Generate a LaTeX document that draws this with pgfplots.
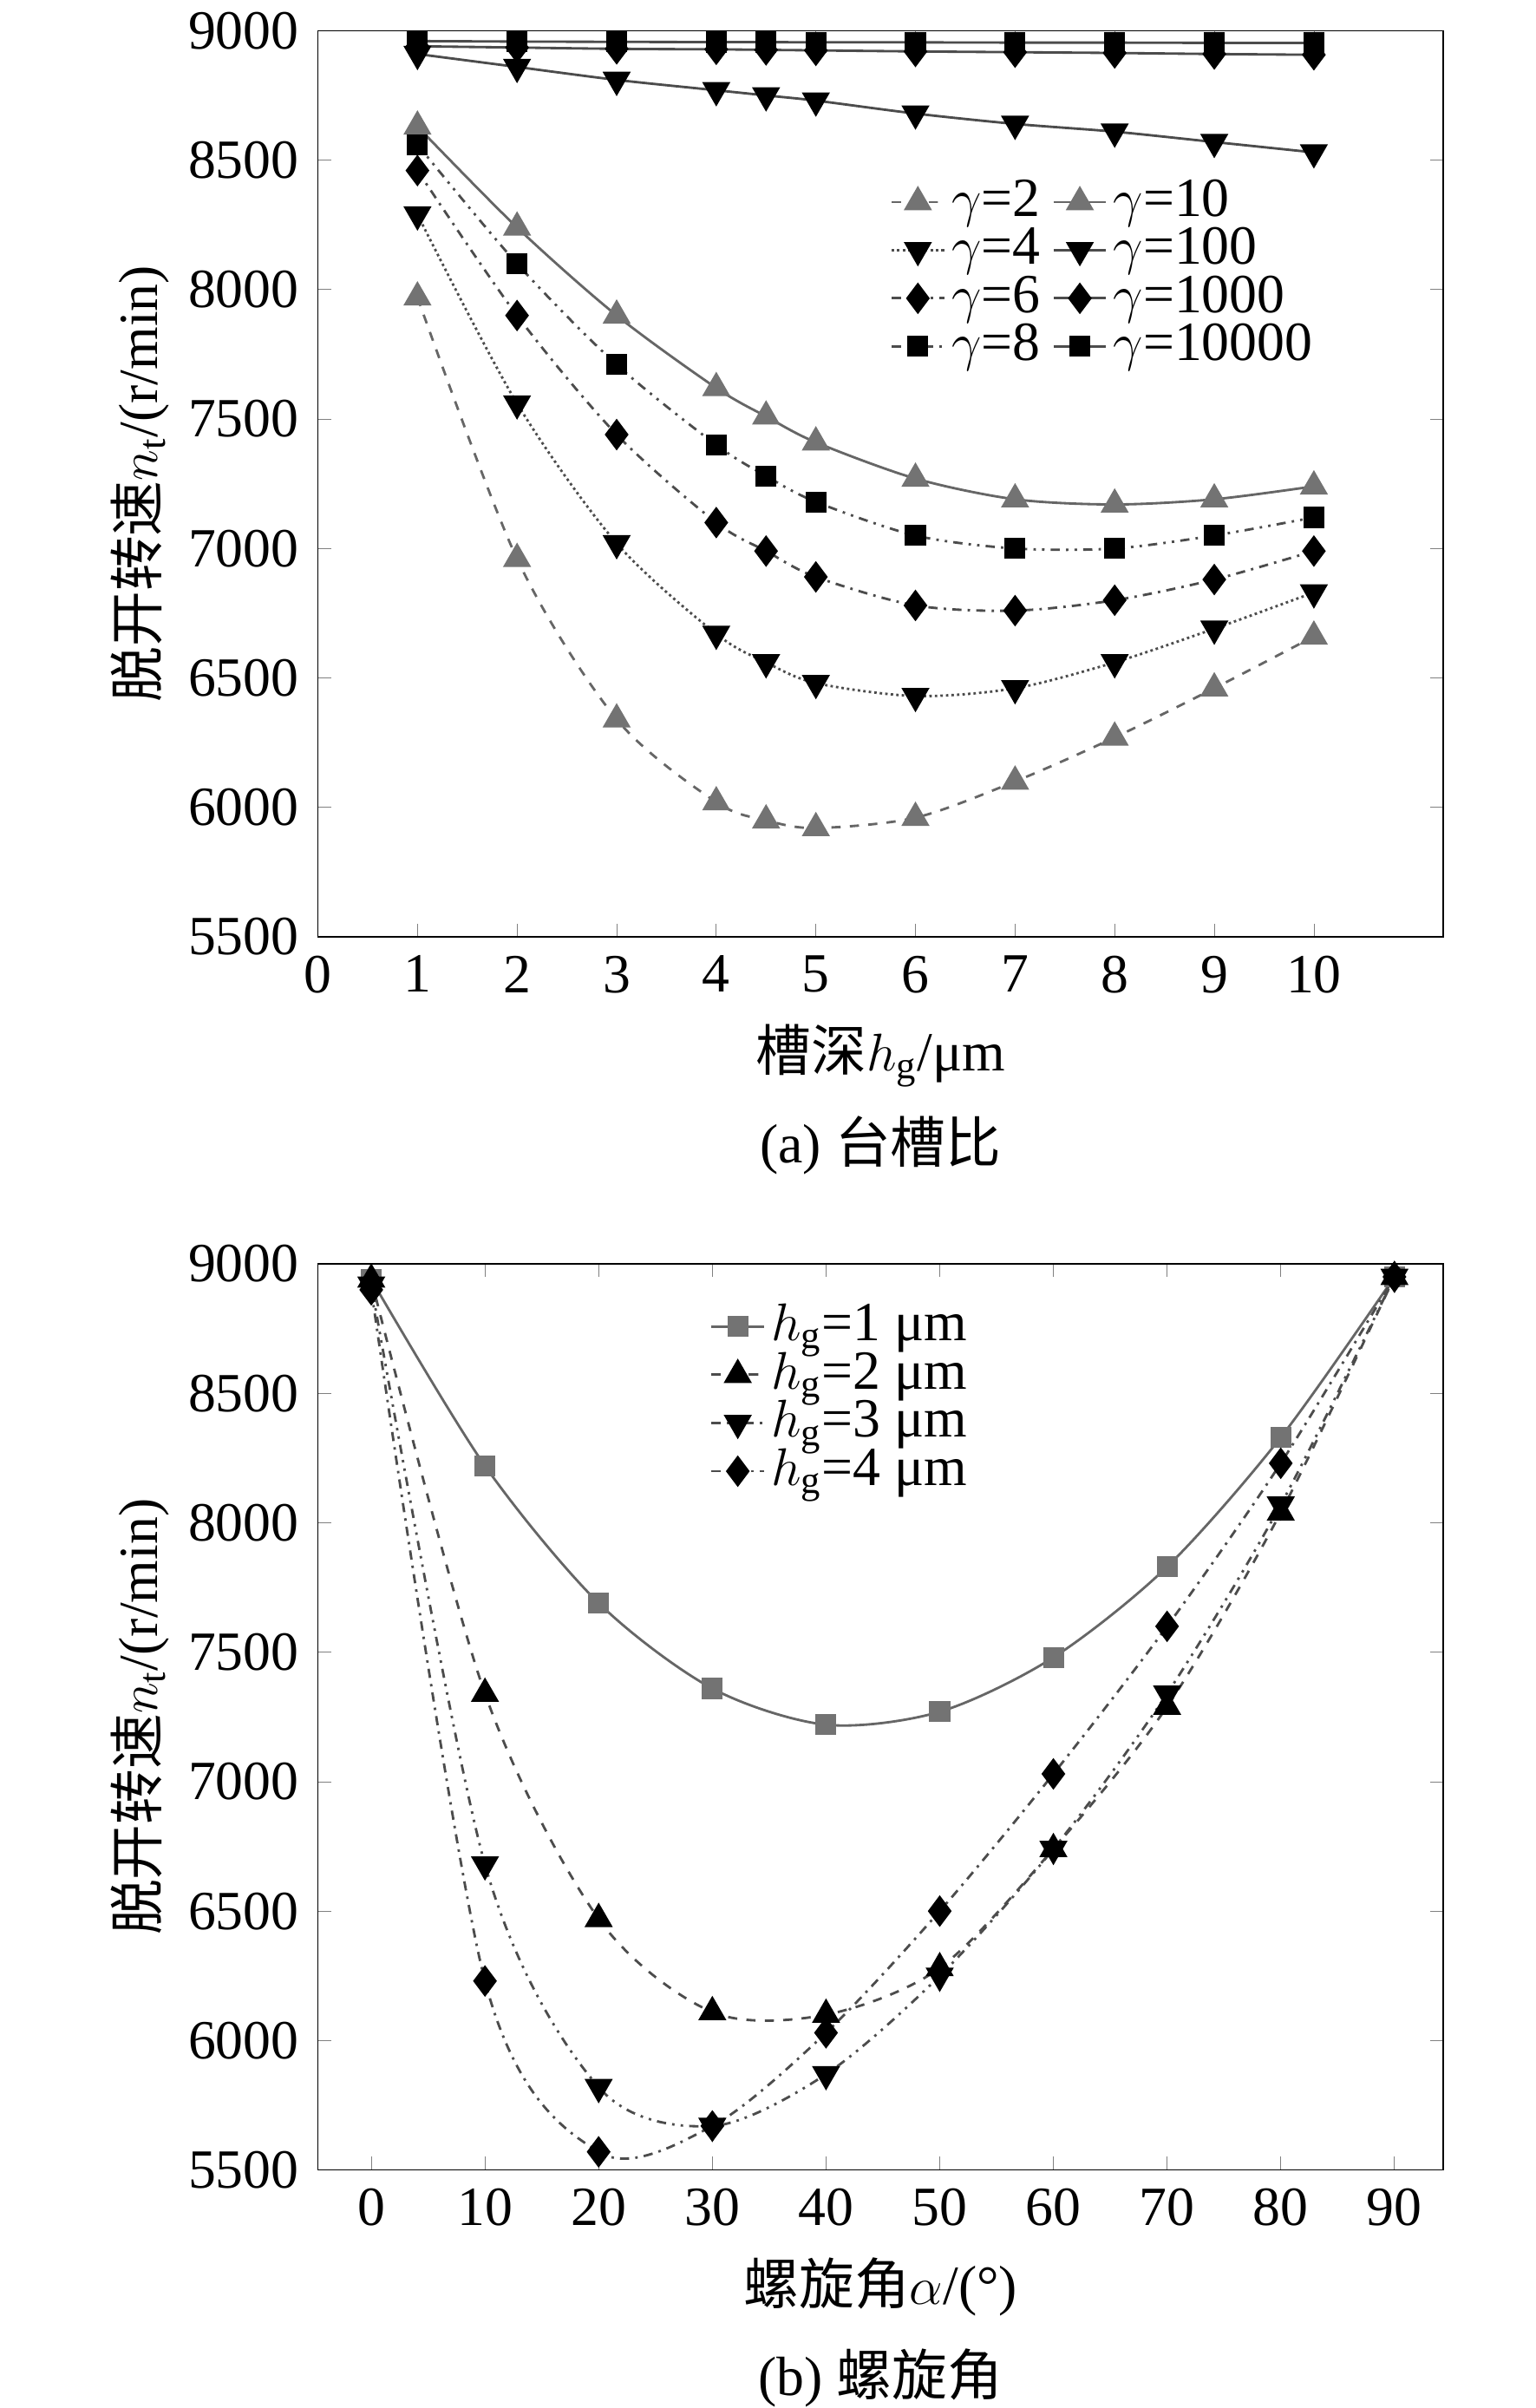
\documentclass[border=0pt]{standalone}
\usepackage{pgfplots}
\pgfplotsset{compat=1.18}
\usepackage{fontspec}
\setmainfont{Liberation Serif}
\newfontfamily\cjk{Noto Sans CJK SC}
\begin{document}
\fontsize{18pt}{21pt}\selectfont
\begin{tikzpicture}
\useasboundingbox (-103.5pt,-479pt) rectangle (396.5pt,305pt);
\pgfplotsset{every axis/.append style={scale only axis, width=366.5pt, height=295pt,
  tick label style={font=\fontsize{18pt}{21pt}\selectfont}, /pgf/number format/assume math mode=true,
  /pgf/number format/1000 sep={}, tick align=inside, ymin=5500, ymax=9000,
  ytick={5500,6000,...,9000}, clip=false,
  legend style={draw=none, fill=none, font=\fontsize{18pt}{21pt}\selectfont, row sep=-3pt},
  legend cell align=left,
  ylabel={{\cjk 脱开转速}$n_\mathrm{t}$/(r/min)}, ylabel style={font=\fontsize{18pt}{21pt}\selectfont, yshift=-6pt},
  xlabel style={font=\fontsize{18pt}{21pt}\selectfont, yshift=2pt}},
  bk/.style={color=black!70, thick, mark size=4.5pt, mark options={solid,fill=black,draw=black}},
  bkd/.style={color=black!70, thick, mark=triangle*, mark size=4.5pt, mark options={solid,fill=black,draw=black,rotate=180}},
  gt/.style={color=black!60, thick, mark size=4.5pt, mark options={solid,fill=black!55,draw=black!55}}}
\begin{axis}[name=top, xmin=0, xmax=11.3, xtick={0,...,10},
  xlabel={{\cjk 槽深}$h_\mathrm{g}$/μm},
  legend columns=2, legend style={at={(0.5,0.85)}, anchor=north west, /tikz/every even column/.append style={column sep=2pt}}]
\addplot[gt, dashed, mark=triangle*, smooth] coordinates {(1,7970)(2,6960)(3,6340)(4,6020)(4.5,5950)(5,5920)(6,5960)(7,6100)(8,6270)(9,6460)(10,6660)};
\addlegendentry{$\gamma$=2}
\addplot[gt, mark=triangle*, smooth] coordinates {(1,8630)(2,8240)(3,7900)(4,7620)(4.5,7510)(5,7410)(6,7270)(7,7190)(8,7170)(9,7190)(10,7240)};
\addlegendentry{$\gamma$=10}
\addplot[bkd, densely dotted, smooth] coordinates {(1,8290)(2,7560)(3,7020)(4,6670)(4.5,6560)(5,6480)(6,6430)(7,6460)(8,6560)(9,6690)(10,6830)};
\addlegendentry{$\gamma$=4}
\addplot[bkd, smooth] coordinates {(1,8910)(2,8860)(3,8810)(4,8770)(4.5,8750)(5,8730)(6,8680)(7,8640)(8,8610)(9,8570)(10,8530)};
\addlegendentry{$\gamma$=100}
\addplot[bk, dash dot, mark=diamond*, smooth] coordinates {(1,8460)(2,7900)(3,7440)(4,7100)(4.5,6990)(5,6890)(6,6780)(7,6760)(8,6800)(9,6880)(10,6990)};
\addlegendentry{$\gamma$=6}
\addplot[bk, mark=diamond*, smooth] coordinates {(1,8940)(2,8935)(3,8930)(4,8928)(4.5,8926)(5,8924)(6,8920)(7,8917)(8,8914)(9,8910)(10,8907)};
\addlegendentry{$\gamma$=1000}
\addplot[bk, dash dot dot, mark=square*, mark size=3pt, smooth] coordinates {(1,8560)(2,8100)(3,7710)(4,7400)(4.5,7280)(5,7180)(6,7050)(7,7000)(8,7000)(9,7050)(10,7120)};
\addlegendentry{$\gamma$=8}
\addplot[bk, mark=square*, mark size=3pt] coordinates {(1,8960)(2,8958)(3,8957)(4,8956)(4.5,8956)(5,8955)(6,8955)(7,8954)(8,8954)(9,8953)(10,8953)};
\addlegendentry{$\gamma$=10000}
\node at (axis description cs:0.5,-0.23) {(a) {\cjk 台槽比}};
\end{axis}
\begin{axis}[at={(0,-401.5pt)}, xmin=-4.7, xmax=94.3, xtick={0,10,...,90},
  xlabel={{\cjk 螺旋角}$\alpha$/(°)},
  legend style={at={(0.34,0.97)}, anchor=north west}]
\addplot[gt, mark=square*, mark size=3pt, smooth] coordinates {(0,8940)(10,8220)(20,7690)(30,7360)(40,7220)(50,7270)(60,7480)(70,7830)(80,8330)(90,8950)};
\addlegendentry{$h_\mathrm{g}$=1 μm}
\addplot[bk, dashed, mark=triangle*, smooth] coordinates {(0,8940)(10,7340)(20,6470)(30,6110)(40,6100)(50,6280)(60,6740)(70,7290)(80,8040)(90,8950)};
\addlegendentry{$h_\mathrm{g}$=2 μm}
\addplot[bkd, dash dot dot, smooth] coordinates {(0,8920)(10,6680)(20,5820)(30,5670)(40,5870)(50,6250)(60,6740)(70,7340)(80,8070)(90,8950)};
\addlegendentry{$h_\mathrm{g}$=3 μm}
\addplot[bk, dash dot, mark=diamond*, smooth] coordinates {(0,8900)(10,6230)(20,5570)(30,5670)(40,6030)(50,6500)(60,7030)(70,7600)(80,8230)(90,8950)};
\addlegendentry{$h_\mathrm{g}$=4 μm}
\node at (axis description cs:0.5,-0.23) {(b) {\cjk 螺旋角}};
\end{axis}
\end{tikzpicture}
\end{document}
